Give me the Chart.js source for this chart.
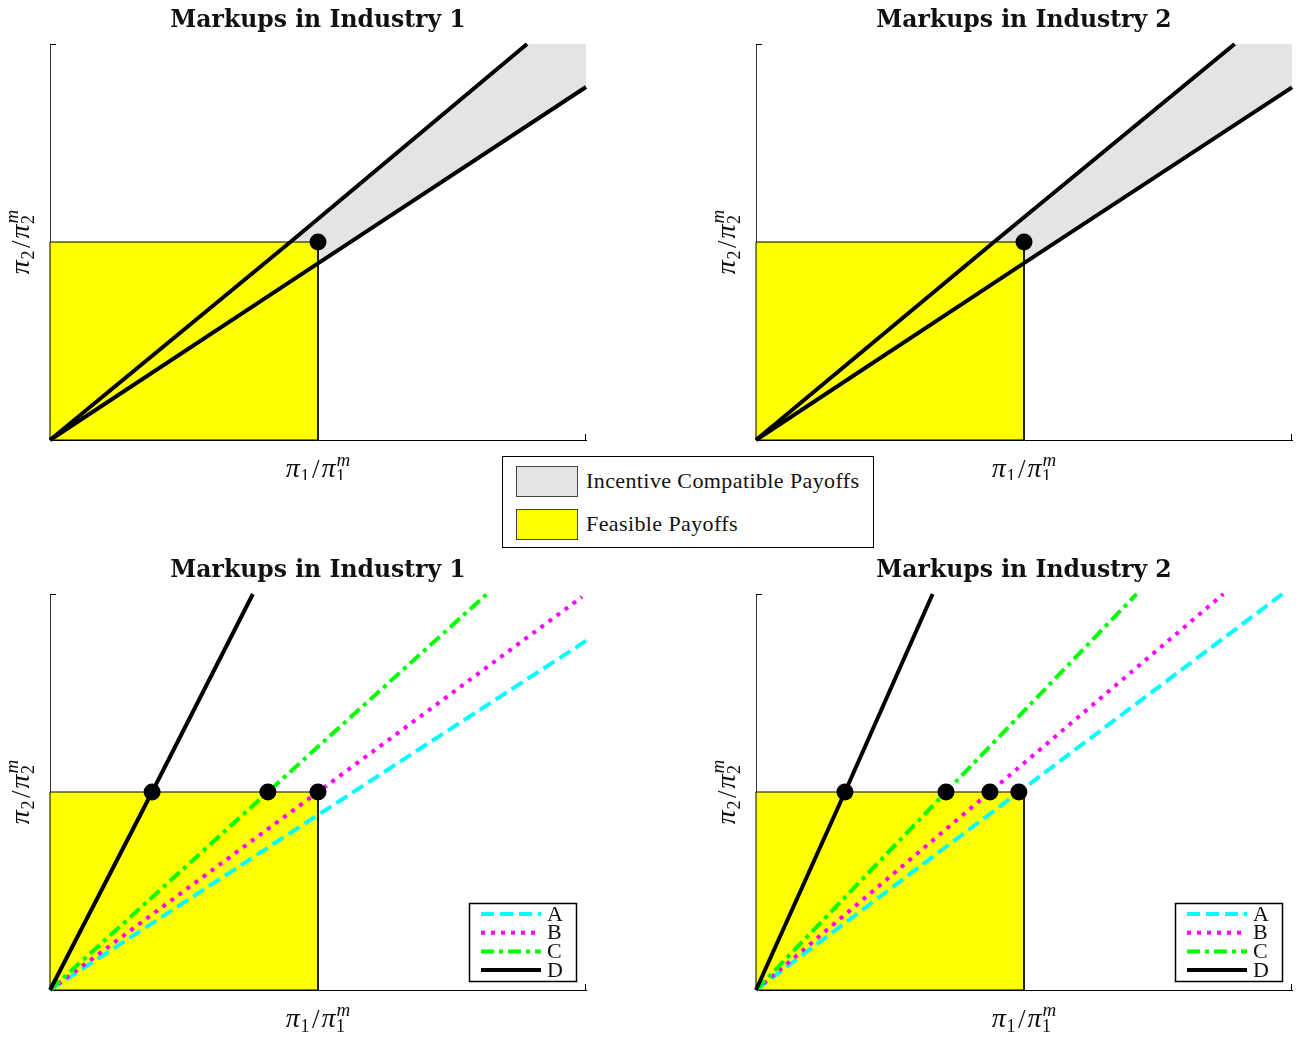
<!DOCTYPE html>
<html>
<head>
<meta charset="utf-8">
<title>Markups in Industry 1 and 2</title>
<script src="https://cdn.jsdelivr.net/npm/chart.js@4.4.1/dist/chart.umd.min.js"></script>
<style>
  html, body { margin: 0; padding: 0; background: #fff; }
  body { width: 1303px; height: 1041px; position: relative; overflow: hidden; }
  canvas { position: absolute; }
  #areaLegend {
    position: absolute; left: 502px; top: 456px; width: 370px; height: 90px;
    border: 1px solid #000; background: #fff; z-index: 5;
    font-family: "Liberation Serif", "DejaVu Serif", serif; font-size: 22px; letter-spacing: 0.4px; color: #111;
  }
  #areaLegend .row { position: absolute; left: 13px; height: 32px; display: flex; align-items: center; }
  #areaLegend .sw { width: 62px; height: 31px; border: 1px solid #444; box-sizing: border-box; margin-right: 8px; }
</style>
</head>
<body>
<canvas id="c1" width="600" height="480" style="left:0;top:0"></canvas>
<canvas id="c2" width="597" height="480" style="left:706px;top:0"></canvas>
<canvas id="c3" width="600" height="491" style="left:0;top:550px"></canvas>
<canvas id="c4" width="597" height="491" style="left:706px;top:550px"></canvas>
<div id="areaLegend"></div>
<script>
// ---- axis limits (payoffs normalised by monopoly payoffs) ----
const axisMin = 0;
const axisMax = 2;

// ---- feasible payoff square ----
const feasibleX = [0, 0, 1, 1, 0];
const feasibleY = [0, 1, 1, 0, 0];

// ---- incentive compatibility bounds, industry 1 ----
const ind1UpperX = [0, 0.897, 1.78];
const ind1UpperY = [0, 1, 2];
const ind1LowerX = [0, 1, 2];
const ind1LowerY = [0, 0.892, 1.783];

// ---- incentive compatibility bounds, industry 2 ----
const ind2UpperX = [0, 0.888, 1.786];
const ind2UpperY = [0, 1, 2];
const ind2LowerX = [0, 1, 2];
const ind2LowerY = [0, 0.893, 1.781];

// ---- collusive outcome ----
const outcomeX = [1];
const outcomeY = [1];

// ---- markup rays A-D, industry 1 ----
const seriesNames = ['A', 'B', 'C', 'D'];
const ind1AX = [0, 1, 2];         const ind1AY = [0, 0.884, 1.763];
const ind1BX = [0, 1, 1.985];     const ind1BY = [0, 1, 1.985];
const ind1CX = [0, 0.813, 1.63];  const ind1CY = [0, 1, 2];
const ind1DX = [0, 0.381, 0.757]; const ind1DY = [0, 1, 2];
const ind1DotX = [0.381, 0.813, 1.0];
const ind1DotY = [1, 1, 1];

// ---- markup rays A-D, industry 2 ----
const ind2AX = [0, 0.981, 1.964]; const ind2AY = [0, 1, 2];
const ind2BX = [0, 0.873, 1.744]; const ind2BY = [0, 1, 2];
const ind2CX = [0, 0.709, 1.42];  const ind2CY = [0, 1, 2];
const ind2DX = [0, 0.332, 0.659]; const ind2DY = [0, 1, 2];
const ind2DotX = [0.332, 0.709, 0.873, 0.981];
const ind2DotY = [1, 1, 1, 1];

const titles = ['Markups in Industry 1', 'Markups in Industry 2'];
const areaLabels = ['Incentive Compatible Payoffs', 'Feasible Payoffs'];

// ---- styles ----
const ICGRAY = '#e4e4e4';
const YELLOW = '#ffff00';
const rayStyles = {
  A: { color: '#00ffff', dash: [13, 6] },
  B: { color: '#ff00ff', dash: [4, 6] },
  C: { color: '#00ff00', dash: [13, 5, 4, 5] },
  D: { color: '#000000', dash: [] }
};
const SERIF = '"Liberation Serif", "DejaVu Serif", serif';
const WIDESERIF = '"DejaVu Serif", "Liberation Serif", serif';

const pts = (xs, ys) => xs.map((x, i) => ({ x: x, y: ys[i] }));

// polygon between an upper and a lower bound, closed through the top-right corner
function wedge(ux, uy, lx, ly) {
  const upper = pts(ux, uy);
  const lower = pts(lx, ly).reverse();
  return upper.concat([{ x: axisMax, y: axisMax }], lower);
}

// draws  π_a / π_a^m  with sub- and superscripts
function drawRatio(ctx, idx, cx, cy, rotate) {
  const fPi = 'italic 28px ' + SERIF;
  const fNum = '18px ' + SERIF;
  const fSlash = '27px ' + SERIF;
  const fSup = 'italic 19px ' + SERIF;
  ctx.save();
  ctx.translate(cx, cy);
  if (rotate) ctx.rotate(-Math.PI / 2);
  ctx.fillStyle = '#111';
  ctx.textBaseline = 'alphabetic';
  ctx.textAlign = 'left';
  const tokens = [
    { t: 'π', f: fPi, dy: 0 },
    { t: idx, f: fNum, dy: 5, pad: 0.5 },
    { t: '/', f: fSlash, dy: 1, pad: 2 },
    { t: 'π', f: fPi, dy: 0 },
    { stack: true }
  ];
  const widths = tokens.map(tk => {
    if (tk.stack) {
      ctx.font = fSup; const a = ctx.measureText('m').width;
      ctx.font = fNum; return Math.max(a, ctx.measureText(idx).width) + 1;
    }
    ctx.font = tk.f; return ctx.measureText(tk.t).width + (tk.pad || 0) * 2;
  });
  const total = widths.reduce((a, b) => a + b, 0);
  let x = -total / 2;
  tokens.forEach((tk, i) => {
    if (tk.stack) {
      ctx.font = fSup; ctx.fillText('m', x + 1, -11);
      ctx.font = fNum; ctx.fillText(idx, x + 0.5, 5);
    } else {
      ctx.font = tk.f; ctx.fillText(tk.t, x + (tk.pad || 0), tk.dy);
    }
    x += widths[i];
  });
  ctx.restore();
}

// title, axis labels and the small end ticks of each panel
const decorations = {
  id: 'decorations',
  afterDraw(chart, args, opts) {
    const ctx = chart.ctx;
    const a = chart.chartArea;
    ctx.save();
    ctx.fillStyle = '#111';
    ctx.font = 'bold 23.5px ' + WIDESERIF;
    ctx.textAlign = 'center';
    ctx.textBaseline = 'alphabetic';
    ctx.fillText(opts.title, (a.left + a.right) / 2, a.top - 17);
    ctx.strokeStyle = '#000';
    ctx.lineWidth = 1;
    ctx.beginPath();
    ctx.moveTo(a.left, a.top + 0.5); ctx.lineTo(a.left + 6, a.top + 0.5);
    ctx.moveTo(a.right - 0.5, a.bottom); ctx.lineTo(a.right - 0.5, a.bottom - 6);
    ctx.stroke();
    ctx.restore();
    drawRatio(ctx, '1', (a.left + a.right) / 2, a.bottom + 37, false);
    drawRatio(ctx, '2', a.left - 21, (a.top + a.bottom) / 2, true);
  }
};

// boxed line legend in the lower-right corner of the plot area
const rayLegend = {
  id: 'rayLegend',
  afterDraw(chart, args, opts) {
    if (!opts.show) return;
    const ctx = chart.ctx;
    const a = chart.chartArea;
    const bx = a.right - 117, by = a.bottom - 87, bw = 107, bh = 78;
    ctx.save();
    ctx.fillStyle = '#fff';
    ctx.fillRect(bx, by, bw, bh);
    ctx.strokeStyle = '#000';
    ctx.lineWidth = 1.5;
    ctx.strokeRect(bx + 0.5, by + 0.5, bw, bh);
    const items = chart.data.datasets.filter(d => d.legendItem);
    items.forEach((d, i) => {
      const y = by + 11 + i * 18.7;
      ctx.strokeStyle = d.borderColor;
      ctx.lineWidth = 4;
      ctx.setLineDash(d.borderDash || []);
      ctx.beginPath();
      ctx.moveTo(bx + 12, y); ctx.lineTo(bx + 72, y);
      ctx.stroke();
      ctx.setLineDash([]);
      ctx.fillStyle = '#111';
      ctx.font = '22px ' + SERIF;
      ctx.textAlign = 'left';
      ctx.textBaseline = 'middle';
      ctx.fillText(d.label, bx + 78, y + 1);
    });
    ctx.restore();
  }
};

function scaleOpts(isX) {
  return {
    type: 'linear', min: axisMin, max: axisMax,
    grid: { display: false, drawTicks: false },
    ticks: { display: false },
    border: { display: true, color: isX ? '#000' : '#333', width: 1 },
    afterFit(s) { if (isX) s.height = 0; else s.width = 0; }
  };
}

function baseOptions(title, pad, showRayLegend) {
  return {
    responsive: false,
    animation: false,
    devicePixelRatio: 1,
    layout: { padding: pad },
    scales: { x: scaleOpts(true), y: scaleOpts(false) },
    plugins: {
      legend: { display: false },
      tooltip: { enabled: false },
      decorations: { title: title },
      rayLegend: { show: showRayLegend }
    },
    elements: { point: { radius: 0 } }
  };
}

function lineSet(label, data, color, width, dash, order, extra) {
  return Object.assign({
    type: 'line', label: label, data: data, borderColor: color, borderWidth: width,
    borderDash: dash, pointRadius: 0, fill: false, tension: 0, order: order,
    borderCapStyle: 'butt', clip: 4
  }, extra || {});
}

function dotSet(xs, ys) {
  return {
    type: 'scatter', label: 'outcome', data: pts(xs, ys),
    pointRadius: 8.5, pointBackgroundColor: '#000', pointBorderWidth: 0, order: 0, clip: false
  };
}

function icChart(id, title, ux, uy, lx, ly, pad) {
  return new Chart(document.getElementById(id), {
    type: 'line',
    data: {
      datasets: [
        lineSet(areaLabels[0], wedge(ux, uy, lx, ly), ICGRAY, 0, [], 6,
          { backgroundColor: ICGRAY, fill: 'shape', borderWidth: 0 }),
        lineSet(areaLabels[1], pts(feasibleX, feasibleY), '#000', 1, [], 5,
          { backgroundColor: YELLOW, fill: 'shape' }),
        lineSet('upper bound', pts(ux, uy), '#000', 4, [], 2),
        lineSet('lower bound', pts(lx, ly), '#000', 4, [], 2),
        dotSet(outcomeX, outcomeY)
      ]
    },
    options: baseOptions(title, pad, false),
    plugins: [decorations, rayLegend]
  });
}

function rayChart(id, title, rays, dotX, dotY, pad) {
  const sets = [
    lineSet('feasible', pts(feasibleX, feasibleY), '#000', 1, [], 9,
      { backgroundColor: YELLOW, fill: 'shape' })
  ];
  rays.forEach((r, i) => {
    const st = rayStyles[seriesNames[i]];
    sets.push(lineSet(seriesNames[i], pts(r[0], r[1]), st.color, 4, st.dash, 5 - i,
      { legendItem: true }));
  });
  sets.push(dotSet(dotX, dotY));
  return new Chart(document.getElementById(id), {
    type: 'line',
    data: { datasets: sets },
    options: baseOptions(title, pad, true),
    plugins: [decorations, rayLegend]
  });
}

const padTopLeft = { left: 50, right: 14, top: 44, bottom: 40 };
const padTopRight = { left: 50, right: 11, top: 44, bottom: 40 };
const padBotLeft = { left: 50, right: 14, top: 44, bottom: 51 };
const padBotRight = { left: 50, right: 11, top: 44, bottom: 51 };

const chart1 = icChart('c1', titles[0], ind1UpperX, ind1UpperY, ind1LowerX, ind1LowerY, padTopLeft);
icChart('c2', titles[1], ind2UpperX, ind2UpperY, ind2LowerX, ind2LowerY, padTopRight);
rayChart('c3', titles[0], [[ind1AX, ind1AY], [ind1BX, ind1BY], [ind1CX, ind1CY], [ind1DX, ind1DY]],
  ind1DotX, ind1DotY, padBotLeft);
rayChart('c4', titles[1], [[ind2AX, ind2AY], [ind2BX, ind2BY], [ind2CX, ind2CY], [ind2DX, ind2DY]],
  ind2DotX, ind2DotY, padBotRight);

// shared legend for the shaded areas, built from the first panel's datasets
const legendBox = document.getElementById('areaLegend');
chart1.data.datasets.slice(0, 2).forEach((d, i) => {
  const row = document.createElement('div');
  row.className = 'row';
  row.style.top = (8 + i * 43) + 'px';
  const sw = document.createElement('div');
  sw.className = 'sw';
  sw.style.background = d.backgroundColor;
  const tx = document.createElement('span');
  tx.textContent = d.label;
  row.appendChild(sw); row.appendChild(tx);
  legendBox.appendChild(row);
});
</script>
</body>
</html>
